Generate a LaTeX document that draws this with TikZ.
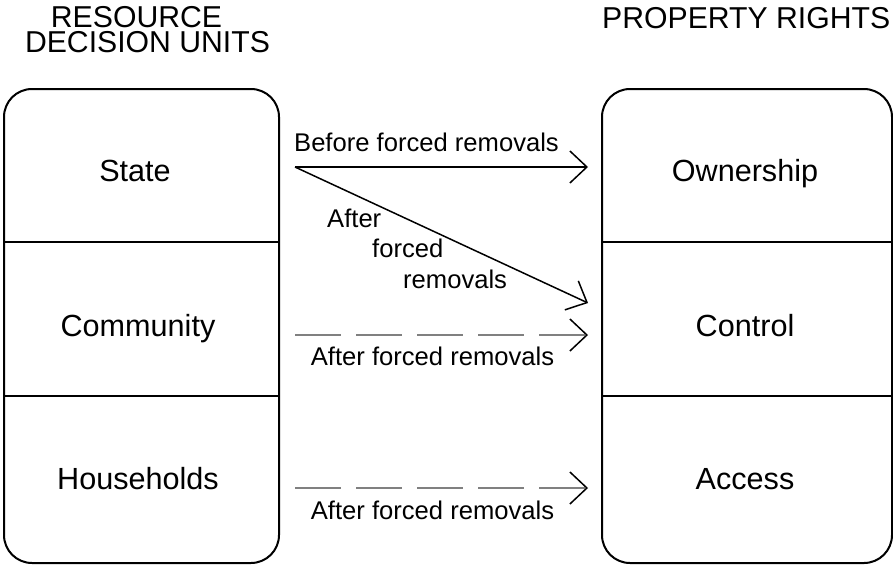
\documentclass[tikz,border=0pt]{standalone}
\usepackage{fontspec}
\setmainfont{Liberation Sans}
\usetikzlibrary{arrows.meta}

\newcommand{\bigfont}{\fontsize{30.6}{30.6}\selectfont}
\newcommand{\headfont}{\fontsize{30.2}{25}\selectfont}
\newcommand{\smallfont}{\fontsize{25.6}{25.6}\selectfont}
\newcommand{\unit}[4]{
\node [celltext] (#1) at (#2, #3) {#4};
}
\newcommand{\rowline}[3]{
\draw [line width=2pt] (#1, #3) -- (#2, #3);
}
\newcommand{\lbl}[4]{
\node [labeltext, anchor=#4] (#1) at (#2) {#3};
}

\tikzset{
unitbox/.style={draw, line width=2pt, rounded corners=28pt, inner sep=0, minimum height=474pt},
celltext/.style={anchor=base, inner sep=0, font=\bigfont},
headtext/.style={inner sep=0, font=\headfont},
labeltext/.style={inner sep=0, font=\smallfont},
link/.style={line width=1.5pt, -{Straight Barb[length=17pt, width=32pt, color=black]}},
later/.style={link, draw=gray, dash pattern=on 46pt off 15pt}
}

\begin{document}
\begin{tikzpicture}[x=1pt, y=-1pt]
\useasboundingbox (0,0) rectangle (893,565);

\node [headtext, align=center] (headunits) at (147.5, 30) {RESOURCE\hspace*{22pt}\\DECISION UNITS};
\node [headtext, anchor=base west] (headprop) at (602, 28) {PROPERTY RIGHTS};

\node [unitbox, minimum width=275pt] (units) at (141.5, 326) {};
\node [unitbox, minimum width=290pt] (rights) at (747, 326) {};

\rowline{4}{279}{242}
\rowline{4}{279}{396}
\rowline{602}{892}{242}
\rowline{602}{892}{396}

\unit{state}{135}{181}{State}
\unit{community}{138}{336}{Community}
\unit{households}{138}{489}{Households}
\unit{ownership}{745}{181}{Ownership}
\unit{control}{745}{336}{Control}
\unit{access}{745}{489}{Access}

\coordinate (stateout) at (295, 167);
\coordinate (ownin) at (588, 167);
\coordinate (controlin) at (588, 303);
\coordinate (commout) at (295, 335);
\coordinate (commin) at (588, 335);
\coordinate (houseout) at (295, 488);
\coordinate (housein) at (588, 488);

\draw [link] (stateout) -- (ownin);
\draw [link] (stateout) -- (controlin);
\draw [later] (commout) -- (commin);
\draw [later] (houseout) -- (housein);

\lbl{before}{426.5, 151}{Before forced removals}{base}
\lbl{aftera}{327, 227}{After}{base west}
\lbl{afterb}{372, 257}{forced}{base west}
\lbl{afterc}{403, 288}{removals}{base west}
\lbl{aftercomm}{432.5, 365}{After forced removals}{base}
\lbl{afterhouse}{432.5, 519}{After forced removals}{base}
\end{tikzpicture}
\end{document}
